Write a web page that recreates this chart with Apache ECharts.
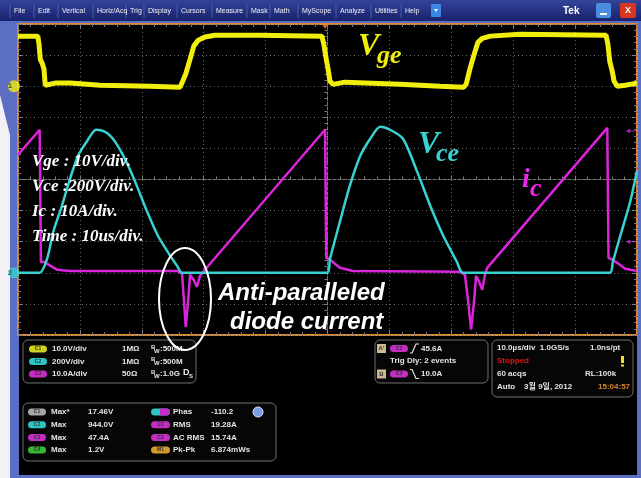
<!DOCTYPE html>
<html>
<head>
<meta charset="utf-8">
<script src="https://cdn.jsdelivr.net/npm/echarts@6/dist/echarts.min.js"></script>
<style>
  html, body { margin: 0; padding: 0; background: #fff; }
  #chart { width: 641px; height: 478px; }
</style>
</head>
<body>
<div id="chart"></div>
<script>
// time in us (10 us/div, 10 div), each channel on its own hidden y axis
const vgeRange = [-80, 20]     // 10 V/div, ground at +3 div
const vceRange = [-400, 1600]  // 200 V/div, ground at -3 div
const icRange = [-20, 80]      // 10 A/div, ground at -3 div

const vgeData = [
  [0, 16.1], [3.2, 16.1], [3.4, 13.5], [3.6, 8.7], [3.9, 7.4], [4.2, 5.5], [4.4, 0.3], [4.7, 0],
  [6.0, 1.0], [8.4, 1.0], [13.3, 0.3], [21.3, 0], [26.2, -0.3], [26.5, 0], [27.1, 3.9], [27.8, 8.7],
  [28.4, 12.9], [29.1, 14.8], [30.2, 15.8], [31.8, 16.4], [39.1, 16.4], [49.1, 16.1], [49.4, 13.5],
  [49.8, 8.7], [50.1, 5.5], [50.4, 1.6], [50.9, 0.6], [52.8, 1.3], [61.7, 0.6], [68.2, 0], [72.0, -0.3],
  [72.4, 0.6], [73.0, 5.5], [73.7, 10.3], [74.3, 14.1], [75.0, 15.4], [76.3, 16.1], [81.1, 16.7],
  [95.0, 16.4], [95.3, 13.5], [95.6, 8.0], [96.0, 4.8], [96.3, 1.6], [96.8, 0], [98.1, 0.3], [100, 1.0]
]
const vceData = [
  [0, 0], [3.5, 0], [4.7, 90], [5.7, 264], [7.1, 431], [8.4, 604], [9.7, 752], [11.2, 849], [12.6, 920],
  [14.1, 907], [15.2, 868], [16.5, 791], [17.8, 688], [19.2, 559], [20.8, 399], [22.6, 238], [24.6, 109],
  [25.7, 45], [26.5, 0], [49.9, 0], [50.4, 90], [52.0, 328], [53.6, 559], [55.3, 752], [56.9, 862],
  [58.5, 939], [60.1, 920], [62.2, 862], [64.5, 649], [66.6, 431], [68.7, 238], [70.9, 71], [71.9, 0],
  [95.6, 0], [96.1, 71], [97.3, 238], [98.9, 457], [100, 656]
]
const icData = [
  [0, 37.9], [3.5, 46.0], [3.7, 3.5], [4.2, 3.5], [5.2, 2.3], [6.3, 1.0], [8.4, 0.6], [25.7, 0.6],
  [26.5, -0.3], [26.8, -8.7], [27.1, -17.4], [27.5, -8.7], [27.8, -0.6], [28.4, -2.3], [28.9, -4.5],
  [29.4, -1.0], [30.2, 1.0], [49.6, 46.0], [49.8, 4.8], [50.4, 4.2], [52.0, 1.6], [54.1, 0.6],
  [71.4, 0.3], [72.2, -0.6], [72.7, -8.7], [73.2, -18.3], [73.7, -8.7], [74.0, -1.0], [74.5, -2.9],
  [75.0, -5.5], [75.4, -1.0], [75.8, 1.6], [95.2, 46.6], [95.4, 4.8], [96.0, 4.2], [96.8, 3.2],
  [98.1, 1.3], [100, 0.6]
]
const trigTime = 49.6
const trigLevels = [45.6, 10.0]

const scaleNotes = ['Vge : 10V/div.', 'Vce :200V/div.', 'Ic : 10A/div.', 'Time : 10us/div.']
const menuItems = ['File', 'Edit', 'Vertical', 'Horiz/Acq', 'Trig', 'Display', 'Cursors', 'Measure',
  'Mask', 'Math', 'MyScope', 'Analyze', 'Utilities', 'Help']
const menuX = [14, 38, 62, 97, 130, 148, 181, 216, 251, 274, 302, 340, 375, 405]

const chanRows = [
  ['C1', '10.0V/div', '1MΩ', ':500M'],
  ['C2', '200V/div', '1MΩ', ':500M'],
  ['C3', '10.0A/div', '50Ω', ':1.0G']
]
const measLeft = [['C1', 'Max*', '17.46V'], ['C2', 'Max', '944.0V'], ['C3', 'Max', '47.4A'], ['C4', 'Max', '1.2V']]
const measRight = [['C2', 'Phas', '-110.2'], ['C3', 'RMS', '19.28A'], ['C3', 'AC RMS', '15.74A'], ['M1', 'Pk-Pk', '6.874mWs']]

const YEL = '#f2ee0c'
const CYA = '#38d2d2'
const MAG = '#dc24dc'
const pillColor = { C1: '#d2d21e', C2: '#2ec4c4', C3: '#c42cc4', C4: '#34b834', M1: '#d29a2a' }
const panelFont = 'bold 8px "Liberation Sans", "Noto Sans CJK KR"'

function txt(x, y, text, fill, font, align) {
  return {
    type: 'text', x: x, y: y, z: 20,
    style: { text: text, fill: fill || '#e4e4e4', font: font || panelFont,
      align: align || 'left', textAlign: align || 'left', verticalAlign: 'middle', textVerticalAlign: 'middle' }
  }
}
function pill(x, y, label, color, w) {
  return [
    { type: 'rect', z: 19, shape: { x: x, y: y - 3.5, width: w || 18, height: 7, r: 3.5 }, style: { fill: color } },
    txt(x + (w || 18) / 2, y, label, '#303030', 'bold 5px "Liberation Sans"', 'center')
  ]
}
function box(x, y, w, h) {
  return { type: 'rect', z: 18, shape: { x: x, y: y, width: w, height: h, r: 5 },
    style: { fill: '#060606', stroke: '#6e6e6e', lineWidth: 1 } }
}

function buildGraphic() {
  let g = []
  // frame
  g.push({ type: 'polygon', z: 1, shape: { points: [[0, 95], [10, 135], [10, 478], [0, 478]] }, style: { fill: '#f2f2f4' } })
  g.push({ type: 'rect', z: 1, shape: { x: 19, y: 336, width: 618, height: 139 }, style: { fill: '#000' } })
  g.push({ type: 'rect', z: 2, shape: { x: 0, y: 0, width: 641, height: 21 },
    style: { fill: new echarts.graphic.LinearGradient(0, 0, 0, 1, [{ offset: 0, color: '#34449a' }, { offset: 1, color: '#18226c' }]) } })
  menuItems.forEach((m, i) => {
    g.push(txt(menuX[i], 11, m, '#f0f0f0', '7px "Liberation Sans"'))
    g.push({ type: 'line', z: 3, shape: { x1: menuX[i] - 4, y1: 4, x2: menuX[i] - 4, y2: 18 }, style: { stroke: '#4b5aa6', lineWidth: 1 } })
  })
  g.push({ type: 'rect', z: 3, shape: { x: 431, y: 4, width: 10, height: 13, r: 1 }, style: { fill: '#3d86e6' } })
  g.push({ type: 'polygon', z: 4, shape: { points: [[434, 9], [438, 9], [436, 12]] }, style: { fill: '#fff' } })
  g.push(txt(563, 11, 'Tek', '#ffffff', 'bold 10px "Liberation Sans"'))
  g.push({ type: 'rect', z: 3, shape: { x: 596, y: 3, width: 15, height: 15, r: 2 }, style: { fill: '#4a8ee2' } })
  g.push({ type: 'rect', z: 4, shape: { x: 600, y: 13, width: 7, height: 2 }, style: { fill: '#fff' } })
  g.push({ type: 'rect', z: 3, shape: { x: 620, y: 3, width: 16, height: 15, r: 2 }, style: { fill: '#d8361e' } })
  g.push(txt(628, 11, 'X', '#fff', 'bold 9px "Liberation Sans"', 'center'))

  // annotations on the screen
  scaleNotes.forEach((s, i) => {
    g.push(txt(32, 162 + i * 25, s, '#ffffff', 'italic bold 17px "Liberation Serif"'))
  })
  g.push(txt(358, 47, 'V', YEL, 'italic bold 32px "Liberation Serif"'))
  g.push(txt(377, 56, 'ge', YEL, 'italic bold 26px "Liberation Serif"'))
  g.push(txt(418, 145, 'V', CYA, 'italic bold 32px "Liberation Serif"'))
  g.push(txt(436, 154, 'ce', CYA, 'italic bold 26px "Liberation Serif"'))
  g.push(txt(522, 180, 'i', '#f022f0', 'italic bold 28px "Liberation Serif"'))
  g.push(txt(530, 189, 'c', '#f022f0', 'italic bold 26px "Liberation Serif"'))
  g.push({ type: 'ellipse', z: 30, shape: { cx: 185, cy: 299, rx: 26, ry: 51 }, style: { fill: null, stroke: '#ffffff', lineWidth: 2 } })
  g.push(txt(218, 293, 'Anti-paralleled', '#ffffff', 'italic bold 24px "Liberation Sans"'))
  g.push(txt(230, 322, 'diode current', '#ffffff', 'italic bold 24px "Liberation Sans"'))

  // channel settings box
  g.push(box(23, 340, 173, 43))
  chanRows.forEach((r, i) => {
    const y = 349 + i * 12.5
    g = g.concat(pill(29, y, r[0], pillColor[r[0]]))
    g.push(txt(52, y, r[1]))
    g.push(txt(122, y, r[2]))
    g.push(txt(151, y - 2, 'B', '#e4e4e4', 'bold 6px "Liberation Sans"'))
    g.push(txt(154, y + 2, 'W', '#e4e4e4', 'bold 6px "Liberation Sans"'))
    g.push(txt(160, y, r[3]))
  })
  g.push(txt(183, 373, 'D', '#e4e4e4', 'bold 9px "Liberation Sans"'))
  g.push(txt(189, 376, 'S', '#e4e4e4', 'bold 6px "Liberation Sans"'))

  // trigger box
  g.push(box(375, 340, 113, 43))
  g.push({ type: 'rect', z: 19, shape: { x: 377, y: 344, width: 9, height: 9 }, style: { fill: '#cdb890' } })
  g.push(txt(381.5, 348.5, "A'", '#333', 'bold 6px "Liberation Sans"', 'center'))
  g = g.concat(pill(390, 348.5, 'C3', pillColor.C3))
  g.push({ type: 'polyline', z: 20, shape: { points: [[410, 353], [412, 353], [416, 344], [419, 344]] }, style: { stroke: '#e4e4e4', lineWidth: 1.2, fill: null } })
  g.push(txt(421, 348.5, '45.6A'))
  g.push(txt(390, 361, 'Trig Dly: 2 events'))
  g.push({ type: 'rect', z: 19, shape: { x: 377, y: 369.5, width: 9, height: 9 }, style: { fill: '#cdb890' } })
  g.push(txt(381.5, 374, 'B', '#333', 'bold 6px "Liberation Sans"', 'center'))
  g = g.concat(pill(390, 374, 'C3', pillColor.C3))
  g.push({ type: 'polyline', z: 20, shape: { points: [[410, 369.5], [412, 369.5], [416, 378.5], [419, 378.5]] }, style: { stroke: '#e4e4e4', lineWidth: 1.2, fill: null } })
  g.push(txt(421, 374, '10.0A'))

  // acquisition box
  g.push(box(492, 340, 141, 57))
  g.push(txt(497, 348, '10.0µs/div  1.0GS/s'))
  g.push(txt(590, 348, '1.0ns/pt'))
  g.push(txt(497, 361, 'Stopped', '#d81818'))
  g.push({ type: 'rect', z: 20, shape: { x: 621, y: 356, width: 3, height: 7 }, style: { fill: '#f0e020' } })
  g.push({ type: 'rect', z: 20, shape: { x: 621, y: 364.5, width: 3, height: 2 }, style: { fill: '#f0e020' } })
  g.push(txt(497, 374, '60 acqs'))
  g.push(txt(585, 374, 'RL:100k'))
  g.push(txt(497, 387, 'Auto    3월 9일, 2012'))
  g.push(txt(598, 387, '15:04:57', '#d8882a'))

  // measurement box
  g.push(box(23, 403, 253, 58))
  measLeft.forEach((r, i) => {
    const y = 412 + i * 12.7
    g = g.concat(pill(28, y, r[0], i === 0 ? '#a6a6a6' : pillColor[r[0]]))
    g.push(txt(51, y, r[1]))
    g.push(txt(88, y, r[2]))
  })
  measRight.forEach((r, i) => {
    const y = 412 + i * 12.7
    if (i === 0) {
      g.push({ type: 'rect', z: 19, shape: { x: 151, y: y - 3.5, width: 19, height: 7, r: 3.5 }, style: { fill: pillColor.C2 } })
      g.push({ type: 'rect', z: 19, shape: { x: 160, y: y - 3.5, width: 10, height: 7, r: [0, 3.5, 3.5, 0] }, style: { fill: pillColor.C3 } })
    } else {
      g = g.concat(pill(151, y, r[0], pillColor[r[0]], 19))
    }
    g.push(txt(173, y, r[1]))
    g.push(txt(211, y, r[2]))
  })
  g.push({ type: 'circle', z: 20, shape: { cx: 258, cy: 412, r: 5 }, style: { fill: '#7d9ce6', stroke: '#dfe6ff', lineWidth: 1 } })
  return g
}

function edgeAxis(pos, extra) {
  return Object.assign({
    type: 'value', position: pos, min: 0, max: 100, interval: 10,
    axisLine: { show: false, onZero: false },
    axisTick: { show: true, inside: true, length: 5, lineStyle: { color: '#7c7c7c' } },
    minorTick: { show: true, splitNumber: 5, length: 3, lineStyle: { color: '#7c7c7c' } },
    axisLabel: { show: false }, splitLine: { show: false }
  }, extra)
}

const chart = echarts.init(document.getElementById('chart'))
chart.setOption({
  animation: false,
  backgroundColor: '#5b6ec4',
  grid: { left: 18, top: 24, width: 619, height: 311, show: true, backgroundColor: '#000',
    borderColor: '#e08a2c', borderWidth: 2 },
  xAxis: [
    {
      type: 'value', min: 0, max: 100, interval: 10,
      axisLine: { onZero: true, onZeroAxisIndex: 3, lineStyle: { color: '#777', type: [3, 2] } },
      axisTick: { show: true, inside: true, length: 4, lineStyle: { color: '#7c7c7c' } },
      minorTick: { show: true, splitNumber: 5, length: 3, lineStyle: { color: '#7c7c7c' } },
      axisLabel: { show: false },
      splitLine: { show: true, lineStyle: { color: '#666', type: [1, 3] } }
    },
    edgeAxis('top'),
    edgeAxis('bottom'),
    { type: 'value', min: -5, max: 5, show: false }
  ],
  yAxis: [
    { type: 'value', min: vgeRange[0], max: vgeRange[1], show: false },
    { type: 'value', min: vceRange[0], max: vceRange[1], show: false },
    { type: 'value', min: icRange[0], max: icRange[1], show: false },
    {
      type: 'value', min: -5, max: 5, interval: 1,
      axisLine: { onZero: true, onZeroAxisIndex: 3, lineStyle: { color: '#777', type: [3, 2] } },
      axisTick: { show: true, inside: true, length: 4, lineStyle: { color: '#7c7c7c' } },
      minorTick: { show: true, splitNumber: 5, length: 3, lineStyle: { color: '#7c7c7c' } },
      axisLabel: { show: false },
      splitLine: { show: true, lineStyle: { color: '#666', type: [1, 3] } }
    },
    edgeAxis('left', { min: -5, max: 5, interval: 1 }),
    edgeAxis('right', { min: -5, max: 5, interval: 1 })
  ],
  graphic: buildGraphic(),
  series: [
    { name: 'Vge', type: 'line', xAxisIndex: 0, yAxisIndex: 0, data: vgeData, showSymbol: false,
      lineStyle: { color: YEL, width: 5 }, z: 3 },
    { name: 'Ic', type: 'line', xAxisIndex: 0, yAxisIndex: 2, data: icData, showSymbol: false,
      lineStyle: { color: MAG, width: 2.5 }, z: 4 },
    { name: 'Vce', type: 'line', xAxisIndex: 0, yAxisIndex: 1, data: vceData, showSymbol: false,
      smooth: 0.25, lineStyle: { color: CYA, width: 2.5 }, z: 5 },
    // channel ground markers
    { type: 'scatter', xAxisIndex: 0, yAxisIndex: 0, data: [[0, 0]], clip: false, symbolSize: 12,
      symbolOffset: [-4, 0], itemStyle: { color: YEL }, z: 6,
      label: { show: true, position: 'inside', offset: [-4, 0], formatter: '1', color: '#333', fontSize: 8, fontWeight: 'bold' } },
    { type: 'scatter', xAxisIndex: 0, yAxisIndex: 1, data: [[0, 0]], clip: false, symbolSize: 11,
      symbolOffset: [-4, 0], itemStyle: { color: CYA }, z: 6,
      label: { show: true, position: 'inside', offset: [-4, 0], formatter: '2', color: '#1a4a4a', fontSize: 8, fontWeight: 'bold' } },
    // trigger level and position markers
    { type: 'scatter', xAxisIndex: 0, yAxisIndex: 2, data: trigLevels.map(v => [100, v]), clip: false,
      symbol: 'path://M0,5 L5,0 L5,4 L12,4 L12,6 L5,6 L5,10 Z', symbolSize: [10, 5], symbolOffset: [-6, 0],
      itemStyle: { color: MAG }, z: 6 },
    { type: 'scatter', xAxisIndex: 0, yAxisIndex: 3, data: [[trigTime, 5]], clip: false,
      symbol: 'triangle', symbolRotate: 180, symbolSize: [8, 6], symbolOffset: [0, 2],
      itemStyle: { color: '#f08a30' }, z: 6 }
  ]
})
</script>
</body>
</html>
